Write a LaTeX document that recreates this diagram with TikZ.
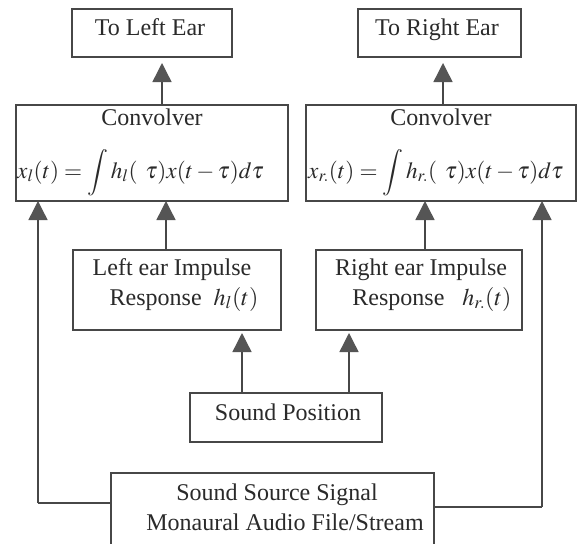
\documentclass[tikz,border=0pt]{standalone}
\usepackage{mathptmx}
\usepackage[no-math]{fontspec}
\setmainfont{Liberation Serif}
\newfontfamily\tnr{Liberation Serif}
\usetikzlibrary{arrows.meta}
\definecolor{linec}{HTML}{474747}
\definecolor{headc}{HTML}{555555}
\definecolor{txtc}{HTML}{2A2A2A}
\tikzset{
  boxn/.style={draw=linec, line width=1.3pt, anchor=north west, inner sep=0pt, outer sep=0pt},
  txt/.style={anchor=base, inner sep=0pt, text=txtc, font=\tnr\fontsize{24}{30}\selectfont},
  fml/.style={anchor=base west, inner sep=0pt, text=txtc, font=\tnr\fontsize{23.2}{28}\selectfont},
  arr/.style={draw=linec, line width=1.4pt, -{Triangle[width=19pt,length=19pt,fill=headc,color=headc]}},
  ln/.style={draw=linec, line width=1.4pt}
}
\begin{document}
\begin{tikzpicture}[x=1pt,y=-1pt]
\useasboundingbox (0,0) rectangle (577,543);
\clip (0,0) rectangle (577,543);
\fill[white] (0,0) rectangle (577,543);
% boxes
\node[boxn, minimum width=160pt, minimum height=48pt] (tle) at (72,9) {};
\node[boxn, minimum width=163pt, minimum height=48pt] (tre) at (358,9) {};
\node[boxn, minimum width=272pt, minimum height=96pt] (convL) at (16,105) {};
\node[boxn, minimum width=270pt, minimum height=96pt] (convR) at (306,105) {};
\node[boxn, minimum width=208pt, minimum height=80pt] (irL) at (73,250) {};
\node[boxn, minimum width=206pt, minimum height=80pt] (irR) at (316,250) {};
\node[boxn, minimum width=192pt, minimum height=49pt] (sp) at (190,393) {};
\node[boxn, minimum width=323pt, minimum height=90pt] (ss) at (111,473) {};
% texts
\node[txt] (tleT) at (150,36) {To Left Ear};
\node[txt] (treT) at (437,36) {To Right Ear};
\node[txt] (convLT) at (152,125) {Convolver};
\node[txt] (convRT) at (441,125) {Convolver};
\node[fml] (convLF) at (17,178) {$x_{l}(t)=\displaystyle\int h_{l}(\;\,\tau)x(t-\tau)d\tau$};
\node[fml] (convRF) at (308,178) {$x_{r.}(t)=\displaystyle\int h_{r.}(\;\,\tau)x(t-\tau)d\tau$};
\node[txt] (irLT1) at (172,275) {Left ear Impulse};
\node[txt] (irLT2) at (184,305) {Response\ \ $h_{l}(t)$};
\node[txt] (irRT1) at (421,275) {Right ear Impulse};
\node[txt] (irRT2) at (432,305) {Response\ \ \ $h_{r.}(t)$};
\node[txt] (spT) at (288,420) {Sound Position};
\node[txt] (ssT1) at (277,500) {Sound Source Signal};
\node[txt] (ssT2) at (285,530) {Monaural Audio File/Stream};
% x positions of connectors
\coordinate (xa) at (162,0);
\coordinate (xb) at (443,0);
\coordinate (xc) at (38,0);
\coordinate (xd) at (166,0);
\coordinate (xe) at (425,0);
\coordinate (xf) at (542,0);
\coordinate (xg) at (242,0);
\coordinate (xh) at (349,0);
\coordinate (ya) at (0,503);
\coordinate (yb) at (0,507);
\coordinate (cL) at (xc |- ya);
\coordinate (cR) at (xf |- yb);
% connectors
\draw[arr] (convL.north -| xa) -- ([yshift=-6pt]tle.south -| xa);
\draw[arr] (convR.north -| xb) -- ([yshift=-6pt]tre.south -| xb);
\draw[arr] (irL.north -| xd) -- (convL.south -| xd);
\draw[arr] (irR.north -| xe) -- (convR.south -| xe);
\draw[arr] (sp.north -| xg) -- ([yshift=-3pt]irL.south -| xg);
\draw[arr] (sp.north -| xh) -- ([yshift=-3pt]irR.south -| xh);
\draw[ln] (ss.west |- ya) -- (cL);
\draw[arr] (cL) -- (convL.south -| xc);
\draw[ln] (ss.east |- yb) -- (cR);
\draw[arr] (cR) -- (convR.south -| xf);
\end{tikzpicture}
\end{document}
